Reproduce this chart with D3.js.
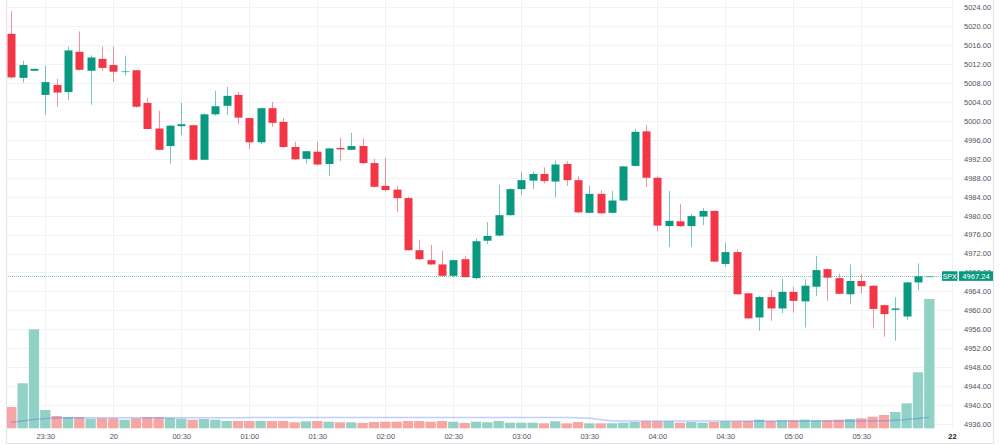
<!DOCTYPE html>
<html><head><meta charset="utf-8">
<script src="https://cdn.jsdelivr.net/npm/d3@7"></script>
<style>
html,body{margin:0;padding:0;background:#fff;}
svg{display:block;font-family:Roboto,"Liberation Sans",Arial,sans-serif;}
</style>
</head><body>
<svg id="chart" width="1000" height="445"></svg>
<script>
// ---- data (5-minute bars) ----
const opens  = [5018.4,5009.1,5010.6,5005.5,5007.6,5006.1,5014.6,5010.6,5013.1,5011.8,
  5010.55,5010.7,5003.8,4998.4,4994.7,4998.9,4999.1,4991.8,5001.4,5003.2,
  5005.5,5000.6,4995.5,5002.7,4999.8,4994.5,4992.0,4993.5,4990.9,4994.3,
  4993.9,4994.7,4991.1,4986.3,4985.5,4983.7,4972.7,4970.6,4969.7,4967.3,
  4970.8,4966.8,4974.7,4975.8,4980.1,4985.6,4987.4,4988.8,4987.2,4990.9,
  4987.5,4980.6,4984.6,4980.6,4983.2,4990.5,4997.8,4988.0,4977.8,4978.8,
  4977.8,4979.8,4981.0,4969.8,4972.3,4963.6,4958.5,4962.8,4960.4,4963.9,
  4961.9,4965.0,4968.7,4966.8,4963.4,4966.2,4965.2,4961.1,4960.1,4958.7,
  4965.9,4967.24];
const highs  = [5023.2,5012.7,5011.1,5011.7,5008.9,5015.7,5018.9,5013.9,5015.7,5015.7,
  5013.8,5010.8,5004.9,5002.1,4999.2,5003.8,4999.2,5001.6,5006.4,5007.2,
  5006.1,5000.7,5002.8,5004.0,5000.6,4995.6,4993.7,4995.6,4994.3,4996.5,
  4997.5,4996.3,4992.0,4992.2,4986.2,4984.0,4974.9,4973.8,4972.6,4970.7,
  4971.5,4975.2,4978.6,4986.5,4985.8,4989.2,4989.3,4990.2,4991.7,4991.5,
  4988.3,4986.3,4985.4,4985.2,4990.5,4998.3,4999.1,4988.3,4985.2,4982.5,
  4980.3,4981.6,4981.1,4974.3,4972.9,4963.7,4963.0,4964.4,4966.7,4965.0,
  4966.6,4971.5,4968.8,4967.8,4969.7,4967.7,4965.3,4961.2,4962.8,4966.0,
  4969.9,4967.3];
const lows   = [5009.0,5008.1,5010.5,5001.3,5003.0,5004.4,5010.6,5003.4,5010.6,5008.2,
  5009.6,5002.8,4998.2,4993.8,4991.0,4997.0,4991.6,4991.7,5001.1,5001.3,
  4999.3,4994.1,4995.1,4998.8,4994.4,4991.8,4991.0,4990.6,4988.4,4991.5,
  4993.8,4990.9,4985.8,4985.2,4980.7,4972.6,4970.7,4969.6,4967.2,4967.1,
  4966.9,4966.6,4974.0,4975.6,4980.0,4984.4,4985.6,4986.8,4983.9,4986.3,
  4980.5,4980.5,4980.4,4980.5,4983.1,4990.4,4986.1,4976.7,4973.4,4977.6,
  4973.4,4978.0,4970.2,4969.2,4963.3,4958.2,4955.7,4957.8,4959.4,4959.5,
  4956.4,4963.0,4962.0,4963.4,4961.3,4963.5,4956.2,4954.4,4953.6,4958.0,
  4964.2,4967.2];
const closes = [5009.2,5011.8,5011.0,5008.2,5006.0,5014.9,5010.8,5013.4,5011.2,5010.4,
  5010.55,5003.0,4998.3,4993.9,4999.0,4999.3,4991.8,5001.4,5003.1,5005.3,
  5000.7,4995.5,5002.7,4999.6,4994.5,4991.9,4993.6,4990.8,4994.2,4994.0,
  4994.7,4991.1,4986.1,4985.4,4983.7,4972.7,4970.8,4969.7,4967.3,4970.6,
  4967.0,4974.6,4975.7,4980.1,4985.6,4987.5,4988.8,4987.3,4990.8,4987.5,
  4980.7,4984.6,4980.5,4983.2,4990.4,4997.7,4988.0,4977.9,4978.9,4977.8,
  4979.9,4981.0,4970.3,4972.3,4963.4,4958.3,4962.8,4960.4,4963.9,4962.0,
  4965.2,4968.5,4966.9,4963.5,4966.2,4965.1,4960.3,4959.2,4960.4,4965.9,
  4967.2,4967.24];
const volumes = [213,450,990,183,123,113,110,96,100,100,
  86,100,110,110,103,96,86,93,86,73,
  73,73,73,73,73,60,70,73,66,60,
  60,53,63,66,66,73,73,66,73,66,
  53,66,60,73,56,56,56,50,70,50,
  63,50,50,50,56,63,70,70,70,56,
  63,56,63,70,70,73,86,73,80,80,
  86,80,80,86,93,100,116,133,163,250,
  560,1293];
const volumeMA = [60,73,88,98,103,105,105,105,105,105,
  105,105,105,105,105,105,105,105,105,105,
  106,107,108,108,108,108,108,108,108,108,
  108,108,108,108,108,108,108,108,108,108,
  108,108,108,108,108,108,108,108,108,108,
  106,100,86,76,72,72,72,72,72,72,
  72,72,72,72,72,72,72,72,72,72,
  72,72,72,72,72,72,72,75,80,88,
  98,110];
const timeLabels   = ["23:30","20","00:30","01:00","01:30","02:00","02:30","03:00","03:30","04:00","04:30","05:00","05:30","22"];
const timeLabelBar = [3,9,15,21,27,33,39,45,51,57,63,69,75,83];
const boldLabels   = ["22"];
const priceTicks = [4936,4940,4944,4948,4952,4956,4960,4964,4968,4972,4976,4980,
  4984,4988,4992,4996,5000,5004,5008,5012,5016,5020,5024];
const symbol = "SPX";
const lastPrice = 4967.24;

// ---- drawing ----
const UP = "#089981", DOWN = "#f23645";
const UP_WICK = "rgba(8,153,129,0.55)", DOWN_WICK = "rgba(242,54,69,0.55)";
const UP_VOL = "#92d1c6", DOWN_VOL = "#f6a6a3";
const GRID = "#f0f2f6";

const svg = d3.select("#chart");
const x = d3.scaleLinear().domain([0, 83]).range([11.3, 951.97]);
const y = d3.scaleLinear().domain([4936, 5024]).range([424, 7.3]);
const vy = d3.scaleLinear().domain([0, 1300]).range([428.3, 298.3]);

const bars = opens.map((o, i) => {
  const c = closes[i];
  let up = c > o;
  if (c === o) up = i > 0 ? c >= closes[i-1] : true;
  return {i, o, h: highs[i], l: lows[i], c, v: volumes[i], ma: volumeMA[i], up, flat: c === o};
});

// grid
const g = svg.append("g");
g.selectAll("line.h").data(priceTicks).join("line")
  .attr("x1", 6).attr("x2", 953)
  .attr("y1", d => Math.round(y(d)) + 0.5).attr("y2", d => Math.round(y(d)) + 0.5)
  .attr("stroke", GRID).attr("stroke-width", 1);
g.selectAll("line.v").data(timeLabelBar).join("line")
  .attr("x1", d => Math.round(x(d)) + 0.5).attr("x2", d => Math.round(x(d)) + 0.5)
  .attr("y1", 0).attr("y2", 429)
  .attr("stroke", GRID).attr("stroke-width", 1);

// volume
svg.append("g").selectAll("rect").data(bars).join("rect")
  .attr("x", d => x(d.i) - 5.15).attr("width", 10.3)
  .attr("y", d => vy(d.v)).attr("height", d => vy(0) - vy(d.v))
  .attr("fill", d => d.up ? UP_VOL : DOWN_VOL);

svg.append("path").datum(bars)
  .attr("d", d3.line().x(d => x(d.i)).y(d => vy(d.ma)).curve(d3.curveMonotoneX))
  .attr("fill", "none").attr("stroke", "#2962ff").attr("stroke-opacity", 0.3).attr("stroke-width", 1.5);

// candles
const cg = svg.append("g");
cg.selectAll("line").data(bars).join("line")
  .attr("x1", d => Math.round(x(d.i)) + 0.5).attr("x2", d => Math.round(x(d.i)) + 0.5)
  .attr("y1", d => y(d.h)).attr("y2", d => y(d.l))
  .attr("stroke", d => d.up ? UP_WICK : DOWN_WICK).attr("stroke-width", 1);
cg.selectAll("rect").data(bars).join("rect")
  .attr("x", d => Math.round(x(d.i)) + 0.5 - 4).attr("width", 8)
  .attr("y", d => Math.min(y(d.o), y(d.c)))
  .attr("height", d => Math.max(1.2, Math.abs(y(d.o) - y(d.c))))
  .attr("fill", d => d.flat ? (d.up ? UP_WICK : DOWN_WICK) : (d.up ? UP : DOWN));

// price line
svg.append("line")
  .attr("x1", 6).attr("x2", 942)
  .attr("y1", Math.round(y(lastPrice)) + 0.5).attr("y2", Math.round(y(lastPrice)) + 0.5)
  .attr("stroke", UP).attr("stroke-opacity", 0.55).attr("stroke-dasharray", "1,1");

// axes
const yAxis = d3.axisRight(y).tickValues(priceTicks).tickSize(0).tickPadding(3)
  .tickFormat(d3.format(".2f"));
const ya = svg.append("g").attr("transform", "translate(961,0)").call(yAxis);
ya.select(".domain").remove();
ya.selectAll("text").attr("font-size", "7.5px").attr("fill", "#50535e").attr("font-family", null);

const xAxis = d3.axisBottom(x).tickValues(timeLabelBar).tickSize(0).tickPadding(4)
  .tickFormat((d, k) => timeLabels[k]);
const xa = svg.append("g").attr("transform", "translate(0,430)").call(xAxis);
xa.select(".domain").remove();
xa.selectAll("text").attr("font-size", "7.5px").attr("fill", "#50535e").attr("font-family", null)
  .attr("font-weight", d => boldLabels.includes(timeLabels[timeLabelBar.indexOf(d)]) ? "bold" : null)
  .attr("fill", d => boldLabels.includes(timeLabels[timeLabelBar.indexOf(d)]) ? "#131722" : "#50535e");

// price label boxes
const py = y(lastPrice);
svg.append("rect").attr("x", 942).attr("y", py - 4.8).attr("width", 15.5).attr("height", 9.6).attr("fill", UP);
svg.append("rect").attr("x", 959).attr("y", py - 4.8).attr("width", 34).attr("height", 9.6).attr("fill", UP);
svg.append("text").attr("x", 949.75).attr("y", py).attr("dy", "0.35em").attr("text-anchor", "middle")
  .attr("font-size", "7.5px").attr("fill", "#fff").text(symbol);
svg.append("text").attr("x", 976).attr("y", py).attr("dy", "0.35em").attr("text-anchor", "middle")
  .attr("font-size", "7.5px").attr("fill", "#fff").text(d3.format(".2f")(lastPrice));

// frame
svg.append("path").attr("d", "M6.5,0 V443.5 H993.5 V0")
  .attr("fill", "none").attr("stroke", "#e0e3eb").attr("stroke-width", 1);
</script>
</body></html>
